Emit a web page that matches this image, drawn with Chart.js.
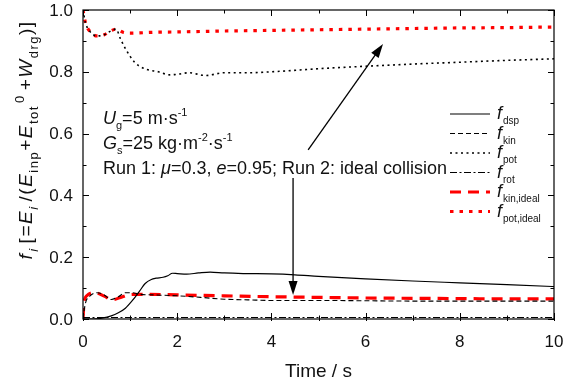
<!DOCTYPE html>
<html>
<head>
<meta charset="utf-8">
<script src="https://cdn.jsdelivr.net/npm/chart.js@4.4.0/dist/chart.umd.min.js"></script>
<style>
  html, body { margin: 0; padding: 0; background: #fff; }
  #wrap { width: 563px; height: 385px; }
</style>
</head>
<body>
<div id="wrap"><canvas id="c" width="563" height="385"></canvas></div>
<script>
// Energy fractions versus time (two runs)
const tDsp = [0, 0.2, 0.4, 0.6, 0.75, 0.9, 1.05, 1.2, 1.32, 1.45, 1.55, 1.7, 1.8, 1.9, 2.0, 2.2, 2.45, 2.7, 3.0, 3.4, 4.0, 4.5, 5.0, 6.0, 7.0, 8.0, 9.0, 10];
const fDsp = [0, 0, 0.003, 0.01, 0.02, 0.035, 0.06, 0.09, 0.115, 0.128, 0.132, 0.135, 0.14, 0.148, 0.147, 0.145, 0.149, 0.152, 0.149, 0.147, 0.146, 0.143, 0.138, 0.13, 0.123, 0.117, 0.111, 0.105];

const tKin = [0, 0.05, 0.15, 0.3, 0.45, 0.6, 0.75, 0.9, 1.05, 1.2, 1.5, 2.0, 2.5, 3.0, 3.5, 4.0, 5, 6, 7, 8, 9, 10];
const fKin = [0, 0.05, 0.075, 0.085, 0.078, 0.063, 0.072, 0.085, 0.085, 0.08, 0.078, 0.075, 0.07, 0.064, 0.062, 0.06, 0.06, 0.059, 0.058, 0.058, 0.058, 0.058];

const tPot = [0, 0.05, 0.15, 0.3, 0.45, 0.6, 0.7, 0.8, 0.9, 1.0, 1.1, 1.2, 1.35, 1.6, 1.85, 2.0, 2.25, 2.6, 3.0, 3.5, 4.0, 5, 6, 7, 8, 9, 10];
const fPot = [1.0, 0.96, 0.93, 0.916, 0.92, 0.933, 0.938, 0.905, 0.875, 0.85, 0.83, 0.818, 0.808, 0.80, 0.79, 0.792, 0.797, 0.788, 0.797, 0.797, 0.80, 0.81, 0.818, 0.825, 0.831, 0.837, 0.842];

const tRot = [0, 1, 2, 3, 4, 5, 6, 7, 8, 9, 10];
const fRot = [0.005, 0.005, 0.005, 0.005, 0.005, 0.005, 0.005, 0.005, 0.005, 0.005, 0.005];

const tKinIdeal = [0, 0.02, 0.08, 0.25, 0.45, 0.62, 0.8, 1.0, 1.3, 2, 3, 4, 5, 6, 7, 8, 9, 10];
const fKinIdeal = [0, 0.05, 0.075, 0.085, 0.074, 0.062, 0.07, 0.079, 0.08, 0.078, 0.075, 0.072, 0.07, 0.068, 0.067, 0.066, 0.065, 0.065];

const tPotIdeal = [0, 0.05, 0.15, 0.3, 0.45, 0.6, 0.7, 0.85, 1.0, 1.5, 2, 3, 4, 5, 6, 7, 8, 9, 10];
const fPotIdeal = [1.0, 0.96, 0.93, 0.916, 0.92, 0.933, 0.938, 0.928, 0.925, 0.928, 0.929, 0.932, 0.934, 0.936, 0.938, 0.94, 0.942, 0.943, 0.945];

const xTicks = [0, 2, 4, 6, 8, 10];
const yTicks = [0.0, 0.2, 0.4, 0.6, 0.8, 1.0];

// Arrow annotations in data units: [t, f]
const arrowToIdealPot = { from: [4.78, 0.547], to: [6.37, 0.89] };
const arrowToIdealKin = { from: [4.46, 0.456], to: [4.46, 0.078] };

const FONT = '"Liberation Sans", Arial, sans-serif';

function pts(t, v) { return t.map((x, i) => ({ x: x, y: v[i] })); }

const series = [
  { label: 'dsp',       data: pts(tDsp, fDsp),           color: '#000', width: 1.2, dash: [] },
  { label: 'kin',       data: pts(tKin, fKin),           color: '#000', width: 1.1, dash: [5, 3] },
  { label: 'pot',       data: pts(tPot, fPot),           color: '#000', width: 1.6, dash: [2, 3.5] },
  { label: 'rot',       data: pts(tRot, fRot),           color: '#000', width: 1.1, dash: [7, 2.5, 2, 2.5] },
  { label: 'kin,ideal', data: pts(tKinIdeal, fKinIdeal), color: '#f00', width: 3.2, dash: [11, 7] },
  { label: 'pot,ideal', data: pts(tPotIdeal, fPotIdeal), color: '#f00', width: 3.2, dash: [3.5, 6] }
];

// Draw a run of text pieces; each piece may be italic, subscript or superscript.
function richText(ctx, x, y, parts, size, subSize, spacing) {
  let cx = x;
  const ss = subSize || size * 0.68;
  const sp = spacing || 0;
  parts.forEach(p => {
    const s = (p.sub || p.sup) ? ss : size;
    ctx.font = (p.it ? 'italic ' : '') + s + 'px ' + FONT;
    let dy = 0;
    if (p.sub) dy = size * 0.3;
    if (p.sup) dy = -size * 0.42;
    for (const ch of p.t) {
      ctx.fillText(ch, cx, y + dy);
      cx += ctx.measureText(ch).width + sp;
    }
    cx += (p.gap || 0);
  });
  return cx - x;
}

function arrow(ctx, x1, y1, x2, y2) {
  const ang = Math.atan2(y2 - y1, x2 - x1);
  const L = 14, W = 4.5;
  ctx.beginPath();
  ctx.moveTo(x1, y1);
  ctx.lineTo(x2 - L * Math.cos(ang) * 0.8, y2 - L * Math.sin(ang) * 0.8);
  ctx.stroke();
  ctx.beginPath();
  ctx.moveTo(x2, y2);
  ctx.lineTo(x2 - L * Math.cos(ang) + W * Math.sin(ang), y2 - L * Math.sin(ang) - W * Math.cos(ang));
  ctx.lineTo(x2 - L * Math.cos(ang) - W * Math.sin(ang), y2 - L * Math.sin(ang) + W * Math.cos(ang));
  ctx.closePath();
  ctx.fill();
}

const decor = {
  id: 'decor',
  afterDatasetsDraw(chart) {
    const ctx = chart.ctx;
    const a = chart.chartArea;
    const xs = chart.scales.x, ys = chart.scales.y;
    ctx.save();
    ctx.strokeStyle = '#000';
    ctx.fillStyle = '#000';
    ctx.setLineDash([]);

    // frame
    ctx.lineWidth = 1.2;
    ctx.strokeRect(a.left, a.top, a.right - a.left, a.bottom - a.top);

    // inward ticks on all four sides
    ctx.lineWidth = 1;
    for (let t = 0; t <= 10; t += 1) {
      const px = Math.round(xs.getPixelForValue(t)) + 0.5;
      const len = t % 2 === 0 ? 6 : 3.5;
      ctx.beginPath();
      ctx.moveTo(px, a.bottom + 2); ctx.lineTo(px, a.bottom - len);
      ctx.moveTo(px, a.top); ctx.lineTo(px, a.top + len);
      ctx.stroke();
    }
    for (let i = 0; i <= 10; i++) {
      const py = Math.round(ys.getPixelForValue(i / 10)) + 0.5;
      const len = i % 2 === 0 ? 6 : 3.5;
      ctx.beginPath();
      ctx.moveTo(a.left, py); ctx.lineTo(a.left + len, py);
      ctx.moveTo(a.right, py); ctx.lineTo(a.right - len, py);
      ctx.stroke();
    }

    // tick labels
    ctx.fillStyle = '#111';
    ctx.font = '17px ' + FONT;
    ctx.textAlign = 'right';
    ctx.textBaseline = 'middle';
    yTicks.forEach(v => ctx.fillText(v.toFixed(1), a.left - 10, ys.getPixelForValue(v) + 1));
    ctx.textAlign = 'center';
    ctx.textBaseline = 'alphabetic';
    xTicks.forEach(v => ctx.fillText(String(v), xs.getPixelForValue(v), a.bottom + 28));

    // arrows
    ctx.fillStyle = '#000';
    ctx.lineWidth = 1.3;
    [arrowToIdealPot, arrowToIdealKin].forEach(ar => {
      arrow(ctx,
        xs.getPixelForValue(ar.from[0]), ys.getPixelForValue(ar.from[1]),
        xs.getPixelForValue(ar.to[0]), ys.getPixelForValue(ar.to[1]));
    });

    // condition text
    ctx.fillStyle = '#111';
    ctx.textAlign = 'left';
    const fs = 18;
    richText(ctx, 103, 124, [{ t: 'U', it: true }, { t: 'g', sub: true }, { t: '=5 m\u00b7s' }, { t: '-1', sup: true }], fs, 11);
    richText(ctx, 103, 149, [{ t: 'G', it: true }, { t: 's', sub: true }, { t: '=25 kg\u00b7m' }, { t: '-2', sup: true }, { t: '\u00b7s' }, { t: '-1', sup: true }], fs, 11);
    richText(ctx, 103, 174, [{ t: 'Run 1: ' }, { t: '\u03bc', it: true }, { t: '=0.3, ' }, { t: 'e', it: true }, { t: '=0.95; Run 2: ideal collision' }], fs, 11);

    // legend
    const lx1 = 450, lx2 = 490, tx = 497;
    series.forEach((s, i) => {
      const ly = 114 + i * 19.5;
      ctx.strokeStyle = s.color;
      ctx.lineWidth = s.width;
      ctx.setLineDash(s.dash);
      ctx.beginPath();
      ctx.moveTo(lx1, ly); ctx.lineTo(lx2, ly);
      ctx.stroke();
      ctx.setLineDash([]);
      ctx.fillStyle = '#111';
      richText(ctx, tx, ly + 5, [{ t: 'f', it: true, gap: 1 }, { t: s.label, sub: true }], 18, 10);
    });

    // x axis title
    ctx.fillStyle = '#111';
    ctx.font = '19px ' + FONT;
    ctx.textAlign = 'center';
    ctx.fillText('Time / s', (a.left + a.right) / 2, 377);

    // y axis title, rotated
    ctx.save();
    ctx.textAlign = 'left';
    const yParts = [
      { t: 'f', it: true, gap: 1 }, { t: 'i', it: true, sub: true, gap: 4 },
      { t: '[=' }, { t: 'E', it: true }, { t: 'i', it: true, sub: true, gap: 4 },
      { t: '/(' }, { t: 'E', it: true }, { t: 'inp', sub: true },
      { t: '+' }, { t: 'E', it: true }, { t: 'tot', sub: true, gap: 2 }, { t: '0', sup: true, gap: 4 },
      { t: '+' }, { t: 'W', it: true }, { t: 'drg', sub: true }, { t: ')]' }
    ];
    ctx.translate(32, 0);
    ctx.rotate(-Math.PI / 2);
    const w = richText(ctx, -10000, -10000, yParts, 19, 13, 1.5);
    richText(ctx, -(140 + w / 2), 0, yParts, 19, 13, 1.5);
    ctx.restore();

    ctx.restore();
  }
};

new Chart(document.getElementById('c'), {
  type: 'line',
  data: {
    datasets: series.map(s => ({
      label: s.label,
      data: s.data,
      borderColor: s.color,
      borderWidth: s.width,
      borderDash: s.dash,
      pointRadius: 0,
      fill: false,
      cubicInterpolationMode: 'monotone'
    }))
  },
  options: {
    responsive: false,
    animation: false,
    devicePixelRatio: 1,
    layout: { padding: { left: 0, right: 9, top: 10, bottom: 0 } },
    plugins: { legend: { display: false }, tooltip: { enabled: false } },
    scales: {
      x: {
        type: 'linear', min: 0, max: 10,
        grid: { display: false },
        border: { display: false },
        ticks: { display: false },
        afterFit: sc => { sc.height = 66; }
      },
      y: {
        type: 'linear', min: 0, max: 1,
        grid: { display: false },
        border: { display: false },
        ticks: { display: false },
        afterFit: sc => { sc.width = 83; }
      }
    }
  },
  plugins: [decor]
});
</script>
</body>
</html>
